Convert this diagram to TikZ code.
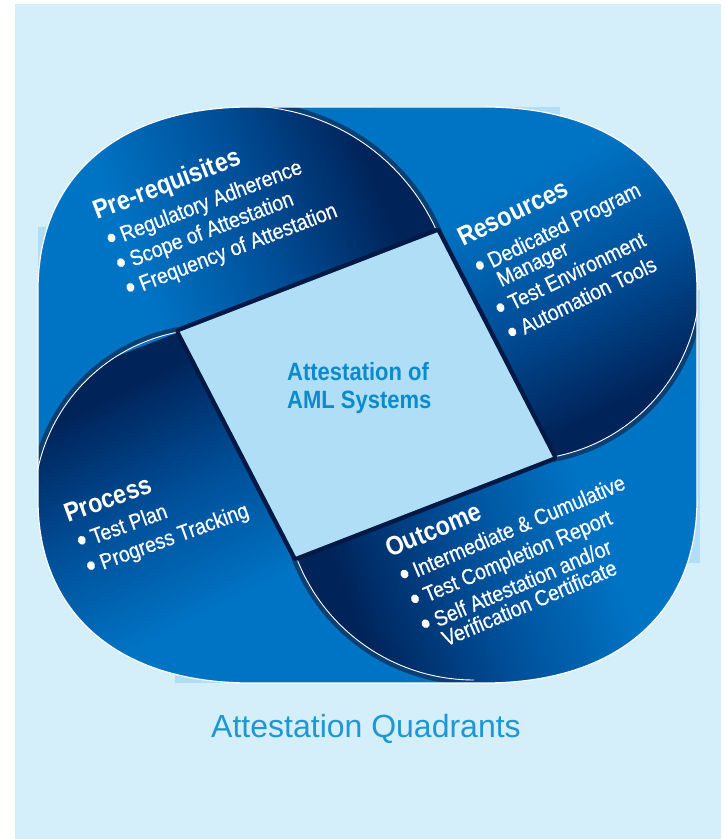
\documentclass[tikz,border=0pt]{standalone}
\usepackage{fontspec}
\usepackage{graphicx}
\setmainfont{Liberation Sans}
\newfontfamily\condfont[FakeStretch=0.88]{Liberation Sans}
\newfontfamily\condbody[FakeStretch=0.88, FakeBold=0.5]{Liberation Sans}
\usetikzlibrary{calc}

% Define colours
\definecolor{panelBlue}{HTML}{D4EEFA}
\definecolor{crossBlue}{HTML}{B1DEF6}
\definecolor{squareBlue}{HTML}{B0DEF6}
\definecolor{midBlue}{HTML}{0074C4}
\definecolor{petalBlue}{HTML}{004D96}
\definecolor{navyBlue}{HTML}{00245A}
\definecolor{shadowBlue}{HTML}{0A3F73}
\definecolor{edgeNavy}{HTML}{001A45}
\definecolor{titleBlue}{HTML}{0B8BCB}
\definecolor{captionBlue}{HTML}{1E97D3}

% Petal gradient: free end blends into the frame, corner end goes dark
\pgfdeclarehorizontalshading{petal}{100bp}{color(0bp)=(midBlue); color(36bp)=(midBlue); color(54bp)=(petalBlue); color(70bp)=(navyBlue); color(100bp)=(navyBlue)}

\newcommand{\qbul}{\raisebox{-2.5pt}{\scalebox{1.45}{\textbullet}}\hspace{5pt}}

\tikzset{
    quadhead/.style={font=\condfont\bfseries\fontsize{26.5}{26.5}\selectfont, text=white, anchor=base west, inner sep=0pt, transform shape},
    quaditem/.style={font=\condbody\fontsize{22}{22}\selectfont, text=white, anchor=base west, inner sep=0pt, transform shape},
    centretext/.style={font=\condfont\bfseries\fontsize{25}{25}\selectfont, text=titleBlue, anchor=base west, inner sep=0pt},
    arcshine/.style={white, line width=0.9pt},
    arcshadow/.style={shadowBlue, line width=5pt},
}

\begin{document}
\begin{tikzpicture}[x=1pt, y=1pt]
    % Outline of the frame: a rectangle with full, squarish corners
    \def\framepath{(250,732) -- (485,732) .. controls (616.4,732) and (697,662.5) .. (697,549)
        -- (697,339) .. controls (697,225.5) and (616.4,156) .. (485,156)
        -- (250,156) .. controls (118.6,156) and (38,225.5) .. (38,339)
        -- (38,549) .. controls (38,662.5) and (118.6,732) .. (250,732) -- cycle}

    \useasboundingbox (0,0) rectangle (724,839);
    \fill[white] (0,0) rectangle (724,839);

    % Panel and the strips peeking out behind the frame
    \fill[panelBlue] (15,0) rectangle (721,835);
    \fill[crossBlue] (38,439) rectangle (120,612);
    \fill[crossBlue] (400,639) rectangle (560,732);
    \fill[crossBlue] (620,276) rectangle (700,549);
    \fill[crossBlue] (175,156) rectangle (330,239);

    % Frame
    \fill[midBlue] \framepath;

    % Petal centres
    \coordinate (prc) at (244,522);
    \coordinate (rsc) at (520,559);
    \coordinate (occ) at (474,349);
    \coordinate (pcc) at (211,333);

    % Square corners, where each arc starts
    \coordinate (A) at ([shift={(100.16:177pt)}]pcc);
    \coordinate (B) at ([shift={(23.66:211pt)}]prc);
    \coordinate (C) at ([shift={(-79.5:180pt)}]rsc);
    \coordinate (D) at ([shift={(200.5:190pt)}]occ);

    % Sides carried on past the square
    \coordinate (prfar) at ($(A)!-1.5!(B)$);
    \coordinate (rsfar) at ($(B)!-1.5!(C)$);
    \coordinate (ocfar) at ($(C)!-1.5!(D)$);
    \coordinate (pcfar) at ($(D)!-1.5!(A)$);

    % Process petal
    \begin{scope}
        \clip \framepath;
        \clip (A) arc[start angle=100.16, end angle=180, radius=177pt] -- (-100,333) -- (-100,-100) -- (pcfar) -- cycle;
        \shade[shading=petal, shading angle=117] (35,150) rectangle (366,512);
    \end{scope}

    % Outcome petal
    \begin{scope}
        \clip \framepath;
        \clip (D) arc[start angle=200.5, end angle=270, radius=190pt] -- (474,-100) -- (900,-100) -- (ocfar) -- cycle;
        \shade[shading=petal, shading angle=-159] (280,150) rectangle (700,445);
    \end{scope}

    % Resources petal
    \begin{scope}
        \clip \framepath;
        \clip (C) arc[start angle=-79.5, end angle=0, radius=180pt] -- (900,559) -- (900,900) -- (rsfar) -- cycle;
        \shade[shading=petal, shading angle=-63] (370,370) rectangle (700,735);
    \end{scope}

    % Pre-requisites petal
    \begin{scope}
        \clip \framepath;
        \clip (B) arc[start angle=23.66, end angle=90, radius=211pt] -- (244,900) -- (-300,900) -- (prfar) -- cycle;
        \shade[shading=petal, shading angle=21] (36,440) rectangle (446,735);
    \end{scope}

    % Shadow and shine along the arcs
    \begin{scope}
        \clip \framepath;
        \foreach \c/\s/\e/\r/\rr in {pcc/100.16/180/177/179.5, occ/200.5/270/190/192.5, rsc/-79.5/0/180/182.5, prc/23.66/90/211/213.5} {
            \draw[arcshadow] ([shift={(\s:\rr pt)}]\c) arc[start angle=\s, end angle=\e, radius=\rr pt];
            \draw[arcshine] ([shift={(\s:\r pt)}]\c) arc[start angle=\s, end angle=\e, radius=\r pt];
        }
    \end{scope}

    % Centre square with its dark edges
    \draw[edgeNavy, line width=9pt, line join=round] (A) -- (B) -- (C) -- (D) -- cycle;
    \fill[squareBlue] (A) -- (B) -- (C) -- (D) -- cycle;

    % Frame outline
    \draw[white, line width=1.2pt] \framepath;

    % Pre-requisites text
    \begin{scope}[shift={(97,619)}, rotate=21]
        \node[quadhead] (prereqhead) at (0,0) {Pre-requisites};
        \foreach \txt [count=\i] in {Regulatory Adherence, Scope of Attestation, Frequency of Attestation}
            \node[quaditem] (prereq\i) at (2,{-30-26.5*(\i-1)}) {\qbul\txt};
    \end{scope}

    % Resources text
    \begin{scope}[shift={(463,592)}, rotate=26]
        \node[quadhead] (reshead) at (0,0) {Resources};
        \node[quaditem] (res1) at (2,-32) {\qbul Dedicated Program};
        \node[quaditem] (res1b) at (2,-53) {\phantom{\qbul}Manager};
        \node[quaditem] (res2) at (2,-79) {\qbul Test Environment};
        \node[quaditem] (res3) at (2,-106) {\qbul Automation Tools};
    \end{scope}

    % Process text
    \begin{scope}[shift={(68,316)}, rotate=20]
        \node[quadhead] (prochead) at (0,0) {Process};
        \node[quaditem] (proc1) at (2,-29) {\qbul Test Plan};
        \node[quaditem] (proc2) at (2,-56) {\qbul Progress Tracking};
    \end{scope}

    % Outcome text
    \begin{scope}[shift={(390,281)}, rotate=23]
        \node[quadhead] (outhead) at (0,0) {Outcome};
        \node[quaditem] (out1) at (2,-28.5) {\qbul Intermediate \& Cumulative};
        \node[quaditem] (out2) at (2,-55.5) {\qbul Test Completion Report};
        \node[quaditem] (out3) at (2,-82.5) {\qbul Self Attestation and/or};
        \node[quaditem] (out3b) at (2,-103.5) {\phantom{\qbul}Verification Certificate};
    \end{scope}

    % Centre title
    \node[centretext] (centretop) at (287,458) {Attestation of};
    \node[centretext] (centrebot) at (287,430) {AML Systems};

    % Caption
    \node[font=\fontsize{32}{32}\selectfont, text=captionBlue, anchor=base] (caption) at (366,101) {Attestation Quadrants};
\end{tikzpicture}
\end{document}
